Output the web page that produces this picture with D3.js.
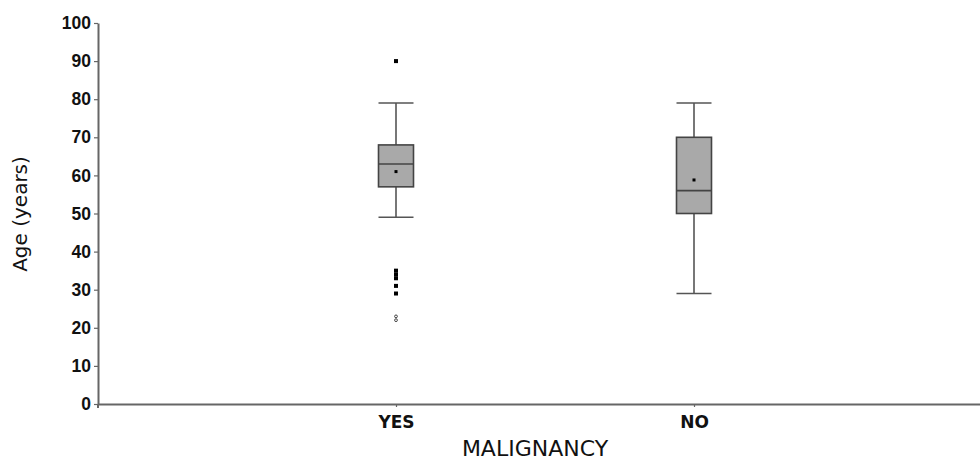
<!DOCTYPE html>
<html lang="en">
<head>
<meta charset="utf-8">
<title>Age by malignancy</title>
<script src="https://d3js.org/d3.v7.min.js"></script>
<style>
	body { margin: 0; background: #fff; }
	.tick text { font-family: "Liberation Sans", Arial, sans-serif; font-weight: bold; font-size: 17.5px; fill: #111; }
	.xcat .tick text { font-family: "DejaVu Sans", Verdana, sans-serif; font-size: 17px; }
</style>
</head>
<body>
<div id="chart"></div>
<script>
	// group names and box statistics
	var groups = ["YES", "NO"];
	var whiskLow = [49, 29],
		q1 = [57, 50],
		median = [63, 56],
		q3 = [68, 70],
		whiskHigh = [79, 79],
		means = [61, 58.8];
	// outliers: filled squares and open circles (YES group only)
	var farOut = [[90, 35, 34, 33, 31, 29], []];
	var extremes = [[23, 22], []];
	var yTicks = [0, 10, 20, 30, 40, 50, 60, 70, 80, 90, 100];

	var svgWidth = 980,
		svgHeight = 460,
		margin = {top: 23, right: -12, bottom: 56, left: 98},
		width = svgWidth - margin.left - margin.right,
		height = svgHeight - margin.top - margin.bottom;

	var svg = d3.select("#chart").append("svg")
		.attr("width", svgWidth)
		.attr("height", svgHeight);
	var g = svg.append("g")
		.attr("transform", "translate(" + margin.left + "," + margin.top + ")");

	var x = d3.scalePoint().domain(groups).range([0, width]).padding(1);
	var y = d3.scaleLinear().domain([0, 100]).range([height, 0]);

	// axes
	var yAxis = g.append("g")
		.call(d3.axisLeft(y).tickValues(yTicks).tickSize(4).tickPadding(3).tickSizeOuter(0));
	var xAxis = g.append("g")
		.attr("class", "xcat")
		.attr("transform", "translate(0," + height + ")")
		.call(d3.axisBottom(x).tickSize(3).tickPadding(9).tickSizeOuter(0));
	svg.selectAll(".domain").attr("stroke", "#666").attr("stroke-width", 2);
	svg.selectAll(".tick line").attr("stroke", "#666").attr("stroke-width", 1.2);
	// small stub under the origin
	g.append("line")
		.attr("x1", 0).attr("x2", 0)
		.attr("y1", height).attr("y2", height + 4)
		.attr("stroke", "#666").attr("stroke-width", 2);

	var boxW = 35;
	var data = groups.map(function(name, i) {
		return {name: name, lo: whiskLow[i], q1: q1[i], med: median[i], q3: q3[i], hi: whiskHigh[i],
			mean: means[i], out: farOut[i], ext: extremes[i]};
	});

	var box = g.selectAll(".box").data(data).enter().append("g")
		.attr("class", "box")
		.attr("transform", function(d) { return "translate(" + x(d.name) + ",0)"; });

	// whisker stems
	box.append("line")
		.attr("x1", 0).attr("x2", 0)
		.attr("y1", function(d) { return y(d.hi); })
		.attr("y2", function(d) { return y(d.lo); })
		.attr("stroke", "#555").attr("stroke-width", 1.6);
	// caps
	["hi", "lo"].forEach(function(k) {
		box.append("line")
			.attr("x1", -boxW / 2).attr("x2", boxW / 2)
			.attr("y1", function(d) { return y(d[k]); })
			.attr("y2", function(d) { return y(d[k]); })
			.attr("stroke", "#555").attr("stroke-width", 1.6);
	});
	box.append("rect")
		.attr("x", -boxW / 2)
		.attr("width", boxW)
		.attr("y", function(d) { return y(d.q3); })
		.attr("height", function(d) { return y(d.q1) - y(d.q3); })
		.attr("fill", "#a9a9a9")
		.attr("stroke", "#444").attr("stroke-width", 1.6);
	box.append("line")
		.attr("x1", -boxW / 2).attr("x2", boxW / 2)
		.attr("y1", function(d) { return y(d.med); })
		.attr("y2", function(d) { return y(d.med); })
		.attr("stroke", "#444").attr("stroke-width", 1.6);
	// mean marker
	box.append("rect")
		.attr("x", -1.5).attr("width", 3)
		.attr("y", function(d) { return y(d.mean) - 1.5; })
		.attr("height", 3)
		.attr("fill", "#000");

	box.selectAll(".out").data(function(d) { return d.out; }).enter().append("rect")
		.attr("class", "out")
		.attr("x", -2).attr("width", 4)
		.attr("y", function(v) { return y(v) - 2; })
		.attr("height", 4)
		.attr("fill", "#000");

	box.selectAll(".ext").data(function(d) { return d.ext; }).enter().append("circle")
		.attr("class", "ext")
		.attr("cx", 0)
		.attr("cy", function(v) { return y(v); })
		.attr("r", 1.4)
		.attr("fill", "none")
		.attr("stroke", "#333").attr("stroke-width", 0.9);

	// axis titles
	svg.append("text")
		.attr("transform", "translate(27,214) rotate(-90)")
		.attr("text-anchor", "middle")
		.style("font-family", "'DejaVu Sans', Verdana, sans-serif")
		.style("font-size", "20px")
		.attr("fill", "#111")
		.text("Age (years)");
	svg.append("text")
		.attr("x", 535).attr("y", 456)
		.attr("text-anchor", "middle")
		.style("font-family", "'DejaVu Sans', Verdana, sans-serif")
		.style("font-size", "22px")
		.attr("fill", "#111")
		.text("MALIGNANCY");
</script>
</body>
</html>
